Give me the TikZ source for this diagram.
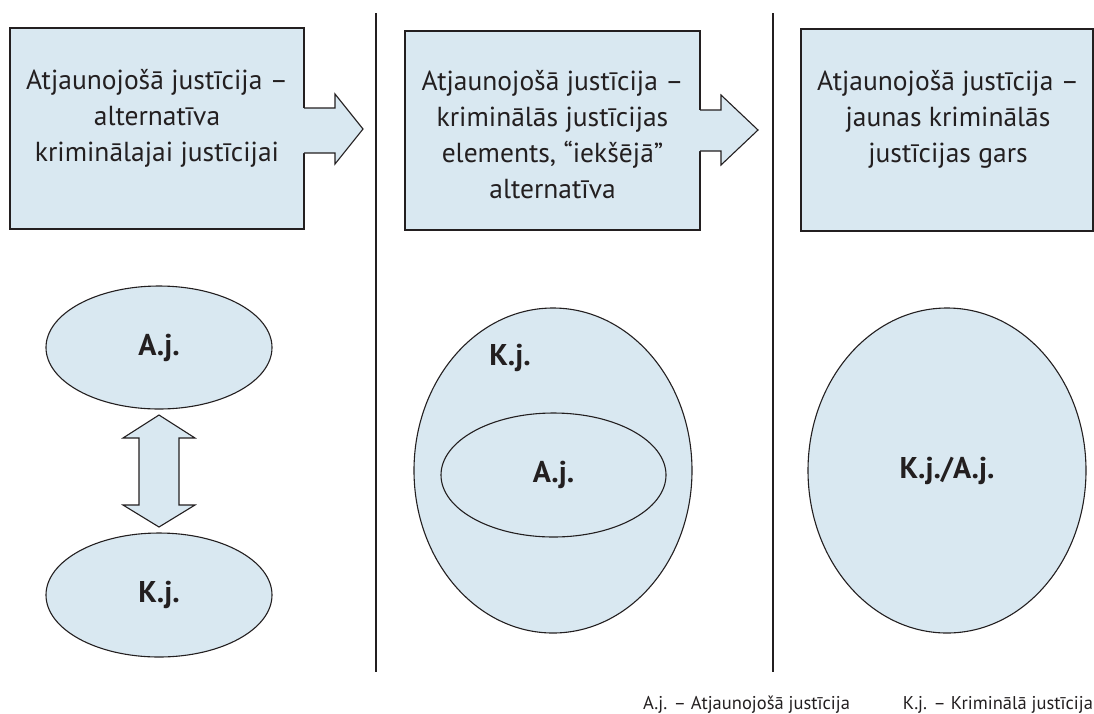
\documentclass[tikz,border=0pt]{standalone}
\usepackage{fontspec}
\setmainfont{PT Sans}
\usetikzlibrary{shapes.geometric}
\definecolor{boxfill}{RGB}{217,232,241}
\definecolor{ink}{RGB}{35,31,32}
\tikzset{
  x=1pt, y=-1pt,
  every node/.style={inner sep=0pt, outer sep=0pt},
  panel/.style={draw=ink, fill=boxfill, line width=1.1pt, rectangle},
  paneltext/.style={anchor=north, align=center, text=ink, font=\fontsize{27.5}{36}\selectfont},
  labelfont/.style={font=\fontsize{30}{32}\selectfont\bfseries, text=ink},
  oval/.style={draw=ink, fill=boxfill, line width=1.1pt, ellipse, labelfont},
  arrowfill/.style={fill=boxfill},
  arrowline/.style={draw=ink, line width=1.1pt, line join=miter},
  divider/.style={draw=ink, line width=1.1pt},
  legend/.style={text=ink, font=\fontsize{18.5}{20}\selectfont}
}
\begin{document}
\begin{tikzpicture}
\useasboundingbox (0,0) rectangle (1094,713);

% panel boxes
\node[panel, minimum width=294pt, minimum height=201pt] (b1) at (157,128.5) {};
\node[panel, minimum width=295pt, minimum height=199pt] (b2) at (552.5,130.5) {};
\node[panel, minimum width=292pt, minimum height=202pt] (b3) at (947,130) {};

% arrow 1
\coordinate (a1s) at (304,108);
\coordinate (a1e) at (304,153);
\fill[arrowfill] (302,108) -- (335,108) -- (335,94) -- (363,129) -- (335,164) -- (335,153) -- (302,153) -- cycle;
\draw[arrowline] (a1s) -- (335,108) -- (335,94) -- (363,129) -- (335,164) -- (335,153) -- (a1e);

% arrow 2
\coordinate (a2s) at (700,110);
\coordinate (a2e) at (700,151);
\fill[arrowfill] (698,110) -- (721,110) -- (721,95) -- (758,130) -- (721,165) -- (721,151) -- (698,151) -- cycle;
\draw[arrowline] (a2s) -- (721,110) -- (721,95) -- (758,130) -- (721,165) -- (721,151) -- (a2e);

% panel texts
\node[paneltext] (t1) at (157,69) {Atjaunojošā justīcija –\\alternatīva\\kriminālajai justīcijai};
\node[paneltext] (t2) at (552.5,70) {Atjaunojošā justīcija –\\kriminālās justīcijas\\elements, “iekšējā”\\alternatīva};
\node[paneltext] (t3) at (948,70) {Atjaunojošā justīcija –\\jaunas kriminālās\\justīcijas gars};

% dividers
\coordinate (d1t) at (376,13);
\coordinate (d1b) at (376,672);
\coordinate (d2t) at (773,13);
\coordinate (d2b) at (773,672);
\draw[divider] (d1t) -- (d1b);
\draw[divider] (d2t) -- (d2b);

% left column
\node[oval, minimum width=226pt, minimum height=123pt] (aj1) at (159,347.5) {A.j.};
\node[oval, minimum width=226pt, minimum height=124pt] (kj1) at (159,595) {K.j.};
\draw[arrowline, fill=boxfill] (159,415) -- (195,438) -- (179,438) -- (179,505) -- (195,505) -- (159,527) -- (123,505) -- (139,505) -- (139,438) -- (123,438) -- cycle;

% middle column
\node[oval, minimum width=278pt, minimum height=325pt] (kj2) at (553,470.5) {};
\node[oval, minimum width=225pt, minimum height=124pt] (aj2) at (553.5,475) {A.j.};
\node[labelfont] (kj2l) at (510,358) {K.j.};

% right column
\node[oval, minimum width=278pt, minimum height=325pt] (kjaj) at (947,470.5) {K.j./A.j.};

% legend
\node[legend, anchor=base east] (l1) at (850,709) {A.j. – Atjaunojošā justīcija};
\node[legend, anchor=base east] (l2) at (1093,709) {K.j. – Kriminālā justīcija};
\end{tikzpicture}
\end{document}
